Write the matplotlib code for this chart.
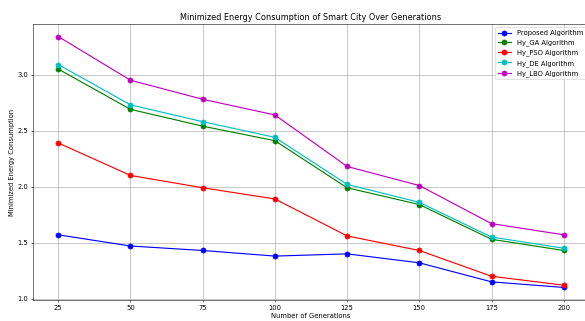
import matplotlib
matplotlib.use("Agg")
import matplotlib.pyplot as plt

# energy consumption per generation count
generations = [25, 50, 75, 100, 125, 150, 175, 200]
proposed = [1.57, 1.47, 1.43, 1.38, 1.40, 1.32, 1.15, 1.10]
hy_ga = [3.05, 2.69, 2.54, 2.41, 1.99, 1.84, 1.53, 1.43]
hy_pso = [2.39, 2.10, 1.99, 1.89, 1.56, 1.43, 1.20, 1.12]
hy_de = [3.09, 2.73, 2.58, 2.44, 2.02, 1.86, 1.55, 1.45]
hy_lbo = [3.34, 2.95, 2.78, 2.64, 2.18, 2.01, 1.67, 1.57]

series = [
    ("Proposed Algorithm", proposed, "b"),
    ("Hy_GA Algorithm", hy_ga, "g"),
    ("Hy_PSO Algorithm", hy_pso, "r"),
    ("Hy_DE Algorithm", hy_de, "c"),
    ("Hy_LBO Algorithm", hy_lbo, "m"),
]

dpi = 48.75
fig = plt.figure(figsize=(585 / dpi, 321 / dpi), dpi=dpi)
ax = fig.add_axes([33 / 585, 21 / 321, 556 / 585, 276 / 321])

for label, vals, col in series:
    ax.plot(generations, vals, marker="o", markersize=7.5, lw=1.7,
            color=col, label=label)

ax.set_title("Minimized Energy Consumption of Smart City Over Generations")
ax.set_xlabel("Number of Generations")
ax.set_ylabel("Minimized Energy Consumption")
ax.set_xticks(generations)
ax.grid(True, lw=1.0)
ax.legend(loc="upper right")

fig.savefig("out.png", dpi=dpi)
